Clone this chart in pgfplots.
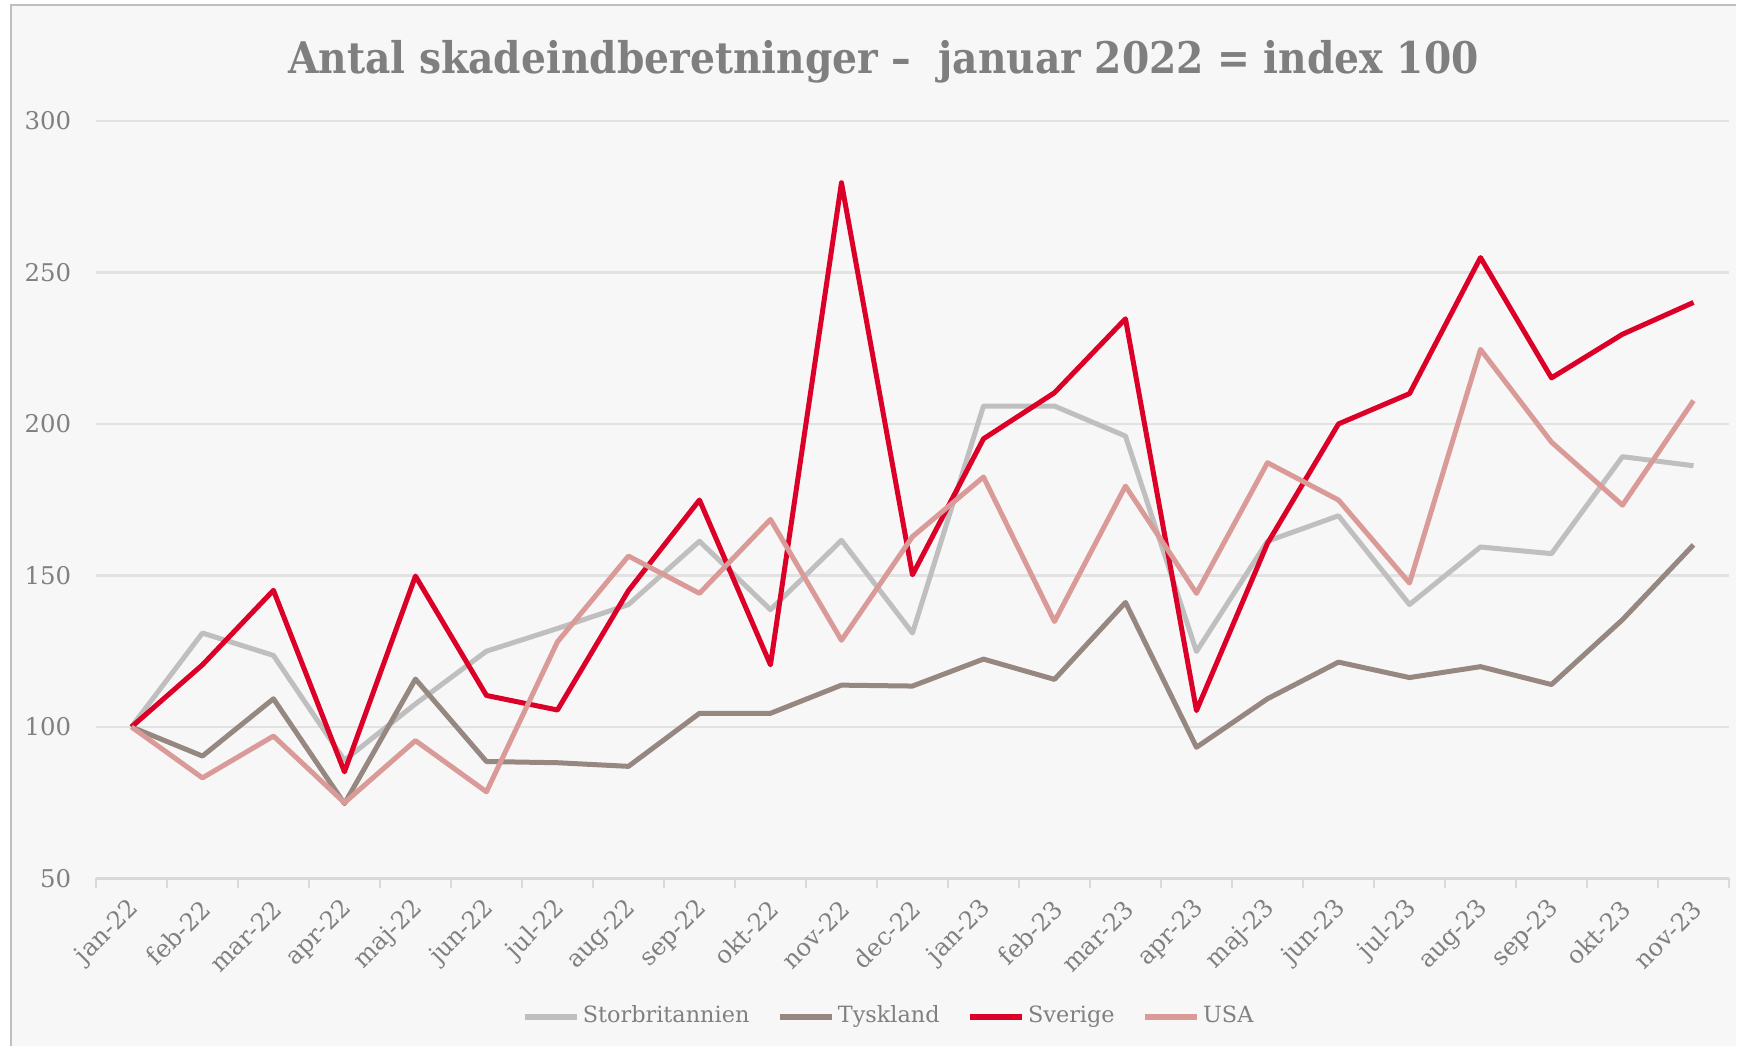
\documentclass[border=0pt]{standalone}
\usepackage{fontspec}
\setmainfont{DejaVu Serif}
\newfontfamily\titlefont{DejaVu Serif Condensed}
\usepackage{pgfplots}
\pgfplotsset{compat=1.18}
\definecolor{cgb}{HTML}{BFBFBF}
\definecolor{cde}{HTML}{968880}
\definecolor{cse}{HTML}{DC0028}
\definecolor{cus}{HTML}{DA9A98}
\definecolor{bgc}{HTML}{F7F7F7}
\definecolor{framec}{HTML}{BFBFBF}
\definecolor{gridc}{HTML}{E2E2E2}
\definecolor{axc}{HTML}{D9D9D9}
\definecolor{labc}{HTML}{808080}
\definecolor{titlec}{HTML}{7F7F7F}

\pgfplotstableread{
x gb de se us
0 100 100 100 100
1 131 90.4 120.5 83.2
2 123.6 109.3 145.1 97
3 89 74.7 85.2 75
4 107.6 115.8 149.8 95.5
5 125 88.6 110.4 78.6
6 132.5 88.2 105.6 128.1
7 140.4 87 145 156.4
8 161.3 104.5 174.9 144.1
9 138.7 104.5 120.5 168.5
10 161.6 113.8 279.6 128.6
11 131 113.5 150.2 162.8
12 205.9 122.4 195.1 182.5
13 205.9 115.7 210.3 134.8
14 196 141.1 234.7 179.5
15 124.9 93.3 105.4 144.1
16 161.3 109.3 160.6 187.2
17 169.7 121.4 200 174.9
18 140.4 116.3 210 147.5
19 159.4 119.9 254.9 224.6
20 157.2 114 215.2 194
21 189.2 135.4 229.6 173.2
22 186.2 160.1 240.1 207.7
}\datatable

\begin{document}
\begin{tikzpicture}
\fill[white] (0,0) rectangle (434.25pt,261.75pt);
\fill[bgc] (2.75pt,0) rectangle (434.25pt,260.5pt);
\draw[framec, line width=0.5pt] (2.75pt,0) -- (2.75pt,260.5pt) -- (434.25pt,260.5pt);
\node[font=\titlefont\bfseries\fontsize{10.9}{12}\selectfont, text=titlec] at (221pt,246.4pt) {Antal skadeindberetninger –\ \ januar 2022 = index 100};
\begin{axis}[
  at={(24pt,42pt)}, anchor=south west,
  scale only axis, width=408.5pt, height=189.5pt,
  xmin=-0.5, xmax=22.5, ymin=50, ymax=300,
  ytick={50,100,...,300},
  xtick={0,...,22},
  xticklabels={jan-22,feb-22,mar-22,apr-22,maj-22,jun-22,jul-22,aug-22,sep-22,okt-22,nov-22,dec-22,jan-23,feb-23,mar-23,apr-23,maj-23,jun-23,jul-23,aug-23,sep-23,okt-23,nov-23},
  minor xtick={-0.5,0.5,...,22.5},
  axis x line*=bottom, axis y line*=left,
  y axis line style={draw=none},
  x axis line style={draw=axc, line width=0.8pt, -},
  ymajorgrids, major grid style={draw=gridc, line width=0.6pt},
  major tick length=0pt, minor tick length=2.5pt,
  tick align=outside,
  minor tick style={draw=axc, line width=0.5pt},
  major tick style={draw=none},
  ticklabel style={font=\fontsize{6.1}{7}\selectfont, text=labc},
  xticklabel style={yshift=-6.5pt, xshift=1pt, rotate=45, anchor=east, inner sep=0pt},
  yticklabel style={anchor=east, inner sep=0pt, xshift=-6pt},
  /pgf/number format/assume math mode=true,
  legend columns=4,
  legend style={at={(axis description cs:0.4857,-0.183)}, anchor=center, draw=none, fill=none, font=\fontsize{5.6}{7}\selectfont, text=labc, nodes={inner xsep=0.8pt}, /tikz/every even column/.append style={column sep=6pt}, /tikz/every odd column/.append style={column sep=0pt}},
  legend image code/.code={\draw[#1, line width=1.5pt] (0pt,0pt) -- (13pt,0pt);},
  every axis plot/.append style={line width=1.25pt, line join=round},
]
\addplot[cgb] table[x=x,y=gb] {\datatable};
\addlegendentry{Storbritannien}
\addplot[cde] table[x=x,y=de] {\datatable};
\addlegendentry{Tyskland}
\addplot[cse] table[x=x,y=se] {\datatable};
\addlegendentry{Sverige}
\addplot[cus] table[x=x,y=us] {\datatable};
\addlegendentry{USA}
\end{axis}
\end{tikzpicture}
\end{document}
